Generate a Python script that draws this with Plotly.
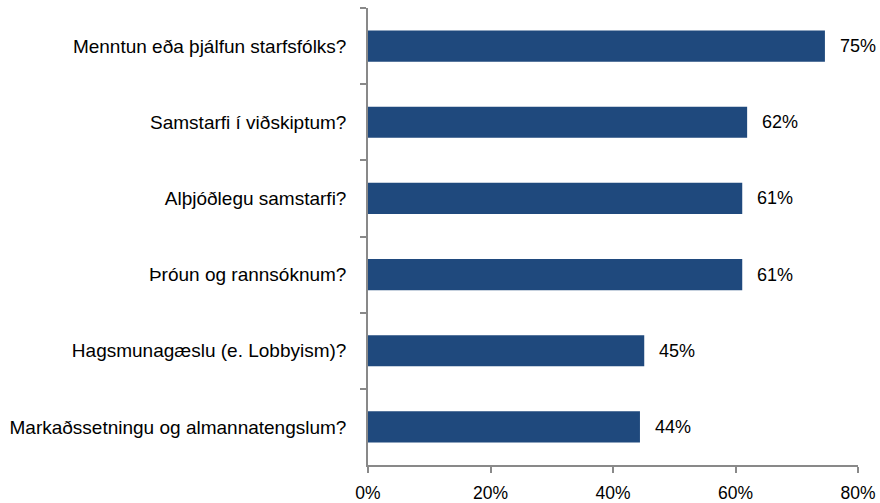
import plotly.graph_objects as go

categories = [
    "Menntun eða þjálfun starfsfólks?",
    "Samstarfi í viðskiptum?",
    "Alþjóðlegu samstarfi?",
    "Þróun og rannsóknum?",
    "Hagsmunagæslu (e. Lobbyism)?",
    "Markaðssetningu og almannatengslum?",
]
values = [74.6, 61.9, 61.1, 61.1, 45.1, 44.4]
labels = ["75%", "62%", "61%", "61%", "45%", "44%"]
x_ticks = [0, 20, 40, 60, 80]
x_tick_labels = ["0%", "20%", "40%", "60%", "80%"]

font = "Liberation Sans, Arial, sans-serif"
bar_color = "#1F497D"
axis_color = "#898989"

fig = go.Figure()
fig.add_trace(go.Bar(
    y=categories, x=values, orientation="h",
    marker=dict(color=bar_color, line=dict(width=0)),
    width=0.41,
    hoverinfo="skip",
))

for c, v, t in zip(categories, values, labels):
    fig.add_annotation(
        x=v, y=c, text=t, showarrow=False,
        xanchor="left", xshift=13,
        font=dict(family=font, size=18, color="#000000"),
    )

fig.update_layout(
    width=880, height=503,
    margin=dict(l=368, r=22, t=8, b=38, autoexpand=False),
    paper_bgcolor="white", plot_bgcolor="white",
    showlegend=False,
    font=dict(family=font, size=18, color="#000000"),
)
fig.update_xaxes(
    range=[0, 80], tickvals=x_ticks, ticktext=x_tick_labels,
    automargin=False,
    showgrid=False, zeroline=False,
    showline=True, linecolor=axis_color, linewidth=1.5,
    ticks="outside", ticklen=6, tickcolor=axis_color, tickwidth=1.5,
    ticklabelstandoff=5,
    tickfont=dict(family=font, size=17.5, color="#000000"),
)
fig.update_yaxes(
    categoryorder="array", categoryarray=categories,
    autorange="reversed", automargin=False,
    showgrid=False, zeroline=False,
    showline=True, linecolor=axis_color, linewidth=1.5,
    ticks="outside", ticklen=6, tickcolor=axis_color, tickwidth=1.5,
    tickson="boundaries",
    ticklabelstandoff=16,
    tickfont=dict(family=font, size=19, color="#000000"),
)

fig.write_html(
    "out.html",
    config={"displayModeBar": False},
    post_script="document.body.style.margin='0';document.body.style.padding='0';",
)
